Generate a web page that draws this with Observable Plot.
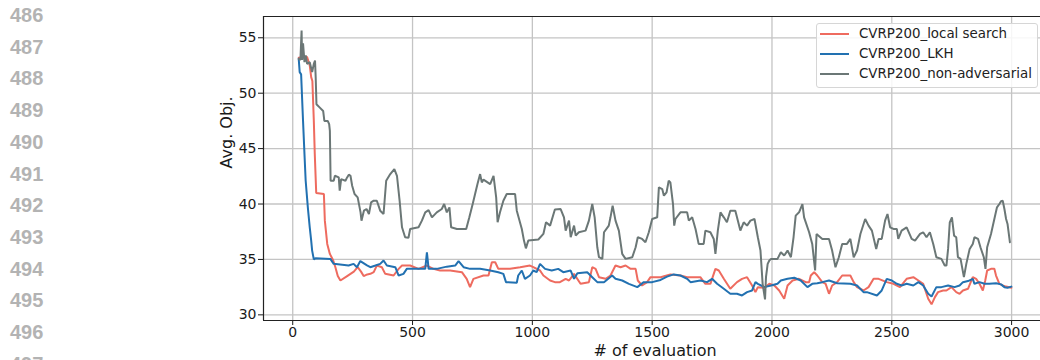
<!DOCTYPE html>
<html><head><meta charset="utf-8">
<script src="https://cdn.jsdelivr.net/npm/d3@7"></script>
<script src="https://cdn.jsdelivr.net/npm/@observablehq/plot@0.6"></script>
<style>
body{margin:0;background:#fff;}
#wrap{position:relative;width:1040px;height:360px;overflow:hidden;background:#fff;}
#lines{position:absolute;left:10px;top:0;font:bold 20px "Liberation Sans",Arial,sans-serif;color:#b3b3b3;line-height:31.7px;}
#legend{position:absolute;left:816px;top:23px;width:222px;height:65px;border:1px solid #d6d6d6;border-radius:3px;background:rgba(255,255,255,0.85);font:13.4px "DejaVu Sans",sans-serif;color:#222;box-sizing:border-box;}
.row{position:absolute;left:0;height:20px;line-height:20px;white-space:nowrap;}
.sw{position:absolute;left:3px;top:9px;width:29px;height:0;border-top:2px solid;}
.lab{position:absolute;left:42px;top:0;}
</style>
</head><body>
<div id="wrap"><div id="lines"></div><div id="chart"></div><div id="legend"></div></div>
<script>
const lineNumbers = [486,487,488,489,490,491,492,493,494,495,496,497];
const seriesNames = ["CVRP200_local search","CVRP200_LKH","CVRP200_non-adversarial"];
const seriesColors = ["#ee6b5f","#2271b1","#6b7776"];
const xTicks = [0,500,1000,1500,2000,2500,3000];
const yTicks = [30,35,40,45,50,55];
const xDomain = [-122, 3120.6];
const yDomain = [29.49, 56.92];
const xLabel = "# of evaluation";
const yLabel = "Avg. Obj.";

const lsX = [25,57,60,71,77,82,88,92,98,130,134,144,155,169,178,188,199,227,255,271,285,296,311,324,338,351,372,386,421,442,456,490,525,560,587,615,657,706,726,740,754,796,817,831,845,858,907,949,990,1004,1032,1046,1074,1094,1115,1139,1153,1174,1201,1236,1250,1264,1278,1306,1326,1347,1368,1389,1410,1431,1440,1458,1479,1493,1535,1576,1618,1646,1701,1722,1743,1764,1778,1799,1826,1854,1875,1896,1917,1931,1941,1968,1989,2010,2030,2051,2065,2086,2113,2141,2155,2162,2176,2189,2210,2224,2238,2251,2272,2293,2327,2341,2355,2382,2403,2424,2445,2479,2507,2534,2562,2590,2611,2631,2652,2666,2680,2693,2714,2728,2749,2769,2783,2797,2818,2838,2852,2866,2880,2890,2898,2914,2928,2935,2949,2963,2977,2999];
const lsY = [53.2,53.3,53.25,52.5,51.45,51.1,47.5,44.5,41.0,40.9,38.5,36.4,35.5,34.9,34.3,33.5,33.1,33.5,33.9,34.3,33.9,33.5,33.65,33.7,33.85,34.45,34.3,33.7,33.55,34.15,34.45,34.45,34.15,34.45,34.15,34.0,34.0,33.85,33.25,32.5,33.25,33.55,33.55,34.75,34.75,34.15,34.15,34.3,34.45,34.3,34.0,33.55,33.1,32.95,32.95,33.25,33.1,33.7,32.8,32.95,34.3,34.15,33.4,33.25,33.55,34.45,34.3,34.45,34.15,34.15,33.1,32.65,32.95,33.4,33.4,33.65,33.55,33.4,33.4,32.8,32.8,34.15,34.0,33.25,32.35,32.95,33.25,33.4,32.65,32.05,32.5,32.45,32.8,32.65,32.2,31.45,32.65,33.1,33.25,32.95,32.95,33.55,33.85,33.55,32.95,32.8,31.9,32.65,32.95,33.55,33.55,32.95,32.5,32.2,32.5,33.25,33.25,32.95,32.8,32.5,33.25,33.4,33.1,32.8,31.45,30.95,31.6,32.05,32.2,32.2,32.5,32.05,31.9,32.2,32.35,33.4,33.25,32.8,32.2,33.1,34.0,34.15,34.15,33.55,32.8,32.65,32.55,32.45];

const lkhX = [25,29,35,43,49,54,63,71,77,81,88,95,157,171,233,254,268,282,310,324,345,365,379,393,428,442,462,476,518,553,560,567,601,643,678,692,713,740,782,824,858,879,890,935,941,956,969,990,1004,1018,1032,1053,1081,1108,1129,1160,1174,1188,1229,1250,1271,1299,1333,1347,1375,1403,1438,1465,1500,1535,1562,1590,1618,1646,1660,1701,1729,1750,1771,1799,1826,1854,1875,1896,1917,1931,1941,1968,1996,2023,2037,2065,2093,2120,2148,2168,2189,2210,2238,2272,2327,2355,2382,2396,2438,2458,2479,2500,2521,2541,2562,2590,2611,2631,2652,2666,2686,2707,2735,2762,2783,2797,2818,2838,2845,2866,2887,2907,2935,2956,2970,2983,2999];
const lkhY = [53.1,51.9,51.7,47.5,44.5,42.1,39.7,37.9,36.7,35.8,35.0,35.1,35.05,34.6,34.45,34.6,34.3,34.85,34.46,34.3,34.45,34.6,34.9,34.45,34.3,33.55,33.7,34.15,34.15,34.15,35.65,34.15,34.15,34.35,34.45,34.85,34.3,34.15,34.15,34.0,33.85,33.7,32.95,32.9,33.55,34.0,33.25,33.55,34.0,33.85,34.6,34.15,34.0,34.15,33.85,34.0,33.25,33.75,33.85,33.4,32.95,32.95,33.55,33.25,33.1,32.8,32.5,32.95,32.95,33.15,33.45,33.65,33.55,33.25,32.95,33.1,32.95,33.25,32.8,32.35,31.9,31.9,31.75,32.05,32.2,32.95,32.8,32.5,32.65,32.8,33.1,33.25,33.35,33.1,32.5,32.8,32.85,32.95,33.1,32.85,32.8,32.65,32.05,32.05,31.75,32.2,33.25,33.1,32.8,32.65,32.8,32.65,32.95,32.65,31.9,31.65,32.5,32.5,32.65,32.5,32.65,32.95,33.05,33.25,32.8,32.95,32.8,32.8,32.85,32.75,32.5,32.45,32.55];

const naX = [25,32,37,39,43,49,54,60,71,81,88,93,96,99,113,127,132,146,152,155,158,171,176,192,196,202,220,227,234,241,248,258,271,283,287,297,308,318,327,338,351,365,379,390,407,424,435,446,456,469,483,490,525,539,553,567,581,601,622,632,643,654,661,685,724,737,751,761,771,782,789,796,824,838,849,855,865,879,893,928,935,956,965,973,983,1025,1046,1057,1074,1094,1118,1132,1139,1153,1160,1174,1181,1194,1222,1236,1250,1260,1271,1278,1292,1299,1319,1326,1335,1347,1361,1375,1389,1417,1431,1440,1458,1472,1486,1500,1521,1528,1542,1549,1560,1569,1576,1587,1592,1597,1618,1646,1653,1667,1681,1694,1715,1722,1743,1757,1764,1774,1785,1799,1812,1826,1847,1854,1868,1882,1896,1910,1927,1941,1952,1961,1971,1975,1982,1989,1996,2023,2037,2051,2065,2079,2090,2099,2113,2127,2134,2155,2168,2180,2186,2210,2238,2251,2265,2279,2293,2313,2327,2341,2355,2369,2389,2403,2417,2435,2445,2458,2472,2482,2493,2507,2521,2527,2541,2562,2583,2597,2618,2631,2645,2659,2673,2686,2707,2721,2728,2735,2742,2751,2760,2769,2776,2787,2801,2811,2825,2838,2845,2860,2870,2884,2891,2898,2914,2928,2939,2949,2956,2963,2970,2977,2983,2993];
const naY = [53.1,53.0,55.66,53.0,54.5,52.8,53.4,52.65,52.8,51.9,52.65,52.95,51.3,49.0,48.7,48.4,47.5,47.5,47.2,46.6,42.1,42.1,42.55,42.4,41.2,42.25,42.1,42.4,42.65,42.55,41.65,40.9,40.6,39.25,38.5,39.4,39.55,39.1,40.15,40.3,40.3,39.4,39.1,42.1,42.7,43.15,42.55,40.3,37.9,37.0,36.95,37.75,37.9,38.5,39.25,39.45,38.8,39.25,39.55,40.0,39.25,39.7,37.9,37.75,37.75,38.8,40.0,40.9,41.8,42.7,41.95,42.2,41.8,42.55,40.6,38.35,39.25,40.3,40.9,40.9,39.4,37.75,36.7,36.0,36.7,36.8,37.3,38.35,38.05,39.5,39.55,38.8,37.6,38.5,37.0,38.05,37.15,37.45,37.6,38.5,40.0,38.8,36.1,35.2,35.05,37.45,38.05,38.8,39.85,38.5,37.6,35.5,35.05,35.2,36.1,37.0,36.85,36.55,37.45,38.65,38.8,41.5,41.35,40.75,41.05,42.1,41.95,40.0,38.05,38.65,39.25,39.25,38.5,38.8,37.75,36.4,36.4,37.6,37.45,36.85,35.5,37.6,39.25,38.8,38.35,39.4,39.4,38.8,37.6,38.35,38.05,38.5,38.65,37.0,35.8,32.8,31.4,33.4,34.6,34.9,35.05,35.05,35.65,35.35,35.8,35.2,37.0,38.95,39.25,40.0,38.8,37.45,36.4,34.0,37.3,36.85,36.85,35.8,34.3,35.2,36.4,36.4,36.85,35.2,35.8,37.3,38.65,38.05,37.6,35.95,36.85,36.85,38.5,39.1,37.9,37.75,37.75,36.85,37.6,37.9,36.85,36.7,37.3,37.45,37.0,37.45,36.4,35.2,35.05,34.45,34.45,35.95,38.35,38.8,37.15,37.0,35.2,35.05,33.4,34.6,35.95,36.4,37.0,36.85,36.1,35.2,34.15,36.1,37.3,38.65,39.7,40.0,40.25,40.3,39.55,38.65,38.2,36.55];

const toRows = (xs, ys) => xs.map((x, i) => ({x, y: ys[i]}));
const series = [toRows(lsX, lsY), toRows(lkhX, lkhY), toRows(naX, naY)];

// line numbers
document.getElementById("lines").innerHTML = lineNumbers.map(n => `<div>${n}</div>`).join("");

const chart = Plot.plot({
  width: 1040, height: 360,
  marginLeft: 263, marginRight: 0, marginTop: 16, marginBottom: 40,
  style: {fontFamily: "DejaVu Sans, sans-serif", fontSize: "14px", color: "#1a1a1a", background: "transparent"},
  x: {domain: xDomain, ticks: xTicks, tickSize: 5, tickPadding: 2, label: null, tickFormat: d => String(d)},
  y: {domain: yDomain, ticks: yTicks, tickSize: 5, tickPadding: 2, label: null, tickFormat: d => String(d)},
  marks: [
    Plot.ruleX(xTicks, {stroke: "#c4c4c4", strokeWidth: 1.3}),
    Plot.ruleY(yTicks, {stroke: "#c4c4c4", strokeWidth: 1.3}),
    ...series.map((rows, i) => Plot.line(rows, {x: "x", y: "y", stroke: seriesColors[i], strokeWidth: 2, strokeLinejoin: "miter"})),
    Plot.ruleX([xDomain[0]], {stroke: "#222", strokeWidth: 1.2}),
    Plot.ruleY(yDomain, {stroke: "#222", strokeWidth: 1.2}),
    Plot.text([xLabel], {frameAnchor: "bottom", dx: 3, dy: 30, lineAnchor: "middle", fontSize: 16, fill: "#1a1a1a"}),
    Plot.text([yLabel], {frameAnchor: "left", dx: -37, rotate: -90, lineAnchor: "middle", fontSize: 16, fill: "#1a1a1a"})
  ]
});
document.getElementById("chart").appendChild(chart);

// legend
document.getElementById("legend").innerHTML = seriesNames.map((name, i) =>
  `<div class="row" style="top:${0.3 + 20 * i}px"><span class="sw" style="border-color:${seriesColors[i]}"></span><span class="lab">${name}</span></div>`
).join("");
</script>
</body></html>
